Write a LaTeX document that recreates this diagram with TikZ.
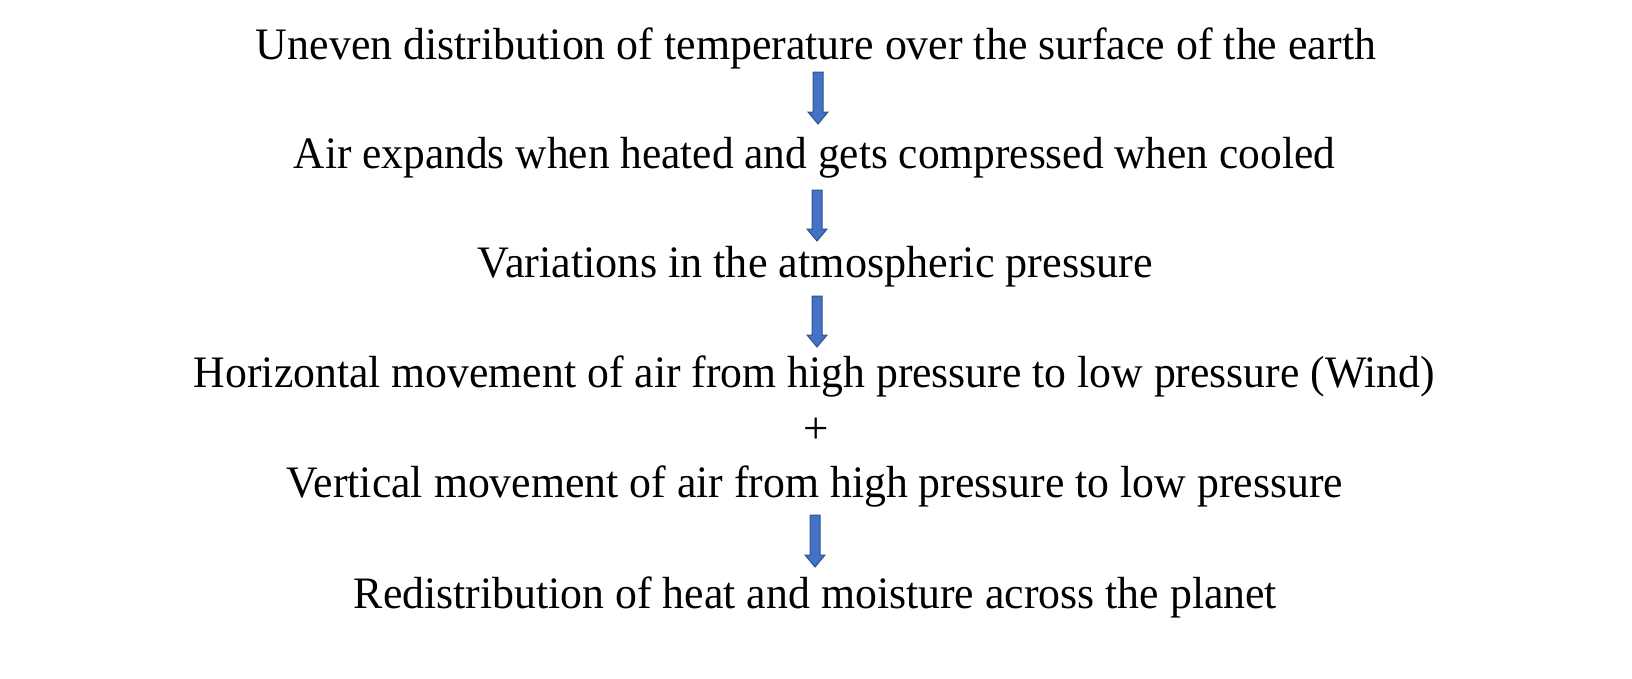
\documentclass[tikz,border=0pt]{standalone}
\usepackage{fontspec}
\setmainfont{Liberation Serif}
\usetikzlibrary{calc}
\definecolor{arrowfill}{HTML}{4472C4}
\definecolor{arrowline}{HTML}{2F528F}
\tikzset{
  line/.style={anchor=base, inner sep=0pt, font=\fontsize{45}{54}\selectfont},
  barrow/.style={fill=arrowfill, draw=arrowline, line width=1pt, line join=miter}
}
\newcommand{\fitw}[2]{\resizebox{#1pt}{\height}{#2}}
\newcommand{\blockarrow}[2]{%
  \draw[barrow] ($(#1)+(-5,0)$) -- ($(#2)+(-5,-12)$) -- ($(#2)+(-10,-12)$) -- (#2)
    -- ($(#2)+(10,-12)$) -- ($(#2)+(5,-12)$) -- ($(#1)+(5,0)$) -- cycle;}
\begin{document}
\begin{tikzpicture}[x=1pt,y=-1pt]
\useasboundingbox (0,0) rectangle (1632,678);
\node[line] (t1) at (816,59) {\fitw{1120}{Uneven distribution of temperature over the surface of the earth}};
\node[line] (t2) at (814.5,168) {\fitw{1041}{Air expands when heated and gets compressed when cooled}};
\node[line] (t3) at (815.5,277) {\fitw{675}{Variations in the atmospheric pressure}};
\node[line] (t4) at (814.5,387) {\fitw{1241}{Horizontal movement of air from high pressure to low pressure (Wind)}};
\node[anchor=center, inner sep=0pt, font=\fontsize{45}{54}\selectfont] (plus) at (816,431) {+};
\node[line] (t5) at (815,497) {\fitw{1056}{Vertical movement of air from high pressure to low pressure}};
\node[line] (t6) at (815.5,608) {\fitw{923}{Redistribution of heat and moisture across the planet}};
\coordinate (a1s) at (818,72);  \coordinate (a1e) at (818,124);
\coordinate (a2s) at (817,190); \coordinate (a2e) at (817,241);
\coordinate (a3s) at (817,296); \coordinate (a3e) at (817,347);
\coordinate (a4s) at (815,515); \coordinate (a4e) at (815,567);
\blockarrow{a1s}{a1e}
\blockarrow{a2s}{a2e}
\blockarrow{a3s}{a3e}
\blockarrow{a4s}{a4e}
\end{tikzpicture}
\end{document}
